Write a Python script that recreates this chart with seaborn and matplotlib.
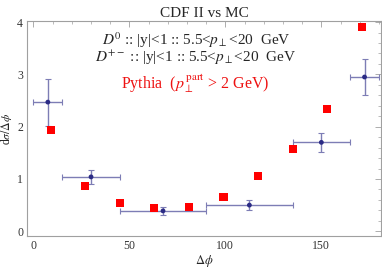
import matplotlib
matplotlib.use("Agg")
import matplotlib.pyplot as plt
import seaborn as sns
import numpy as np
import pandas as pd
from matplotlib.ticker import MultipleLocator

# CDF II data (blue)
cdf_x = [7.5, 30, 67.5, 112.5, 150, 172.5]
cdf_xerr = [7.5, 15, 22.5, 22.5, 15, 7.5]
cdf_y = [2.47, 1.04, 0.39, 0.50, 1.70, 2.95]
cdf_yerr = [0.45, 0.14, 0.07, 0.09, 0.18, 0.35]

# Pythia (red squares)
mc_x = [9, 27, 45, 63, 81, 99, 117, 135, 153, 171]
mc_y = [1.93, 0.865, 0.54, 0.445, 0.457, 0.65, 1.055, 1.57, 2.34, 3.90]

title = "CDF II vs MC"
xlabel = r"$\Delta\phi$"
ylabel = r"d$\sigma/\Delta\phi$"
xticks = [0, 50, 100, 150]
yticks = [0, 1, 2, 3, 4]

sns.set_style("white")
plt.rcParams['font.family'] = ['Liberation Serif', 'DejaVu Serif']
plt.rcParams['mathtext.fontset'] = 'stix'

fig = plt.figure(figsize=(3.82, 2.70), dpi=100)
ax = fig.add_axes([0.0715, 0.127, 0.9255, 0.795])

cdf = pd.DataFrame({"x": cdf_x, "y": cdf_y})
mc = pd.DataFrame({"x": mc_x, "y": mc_y})

ax.errorbar(cdf_x, cdf_y, xerr=cdf_xerr, yerr=cdf_yerr, fmt='none',
            ecolor='#7d7db5', elinewidth=1.0, capsize=2, capthick=0.8, zorder=2)
sns.scatterplot(data=cdf, x="x", y="y", ax=ax, color='#2b2b85', s=12,
                marker='o', edgecolor='none', zorder=3, legend=False)
sns.scatterplot(data=mc, x="x", y="y", ax=ax, color='#ff0000', s=34,
                marker='s', edgecolor='none', zorder=4, legend=False)

ax.set_xlim(-3.2, 181)
ax.set_ylim(-0.085, 4.02)
ax.set_xticks(xticks)
ax.set_yticks(yticks)
ax.xaxis.set_minor_locator(MultipleLocator(10))
ax.yaxis.set_minor_locator(MultipleLocator(0.2))
ax.tick_params(which='both', direction='in', top=True, right=True,
               labeltop=False, labelright=False, color='#a0a0a0',
               labelsize=8.5, labelcolor='#333333')
ax.tick_params(which='major', length=4, width=0.6, pad=3)
ax.tick_params(which='minor', length=2, width=0.5)
for sp in ax.spines.values():
    sp.set_color('#a0a0a0')
    sp.set_linewidth(0.8)

ax.set_xlabel(xlabel, fontsize=9, labelpad=1)
ax.set_ylabel(ylabel, fontsize=8.5)
ax.yaxis.set_label_coords(-0.038, 0.5)
ax.set_title(title, fontsize=11, pad=3)

ax.text(0.477, 0.911, r"$D^0$ :: |y|<1 :: 5.5<$p_\perp$<20  GeV",
        transform=ax.transAxes, ha='center', va='center', fontsize=11)
ax.text(0.477, 0.828, r"$D^{+-}$ :: |y|<1 :: 5.5<$p_\perp$<20  GeV",
        transform=ax.transAxes, ha='center', va='center', fontsize=11)
ax.text(0.475, 0.707, r"Pythia  ($p_\perp^{\,\mathrm{part}}$ > 2 GeV)",
        transform=ax.transAxes, ha='center', va='center', fontsize=11.5,
        color='#ee1111')

fig.savefig("out.png", dpi=100)
